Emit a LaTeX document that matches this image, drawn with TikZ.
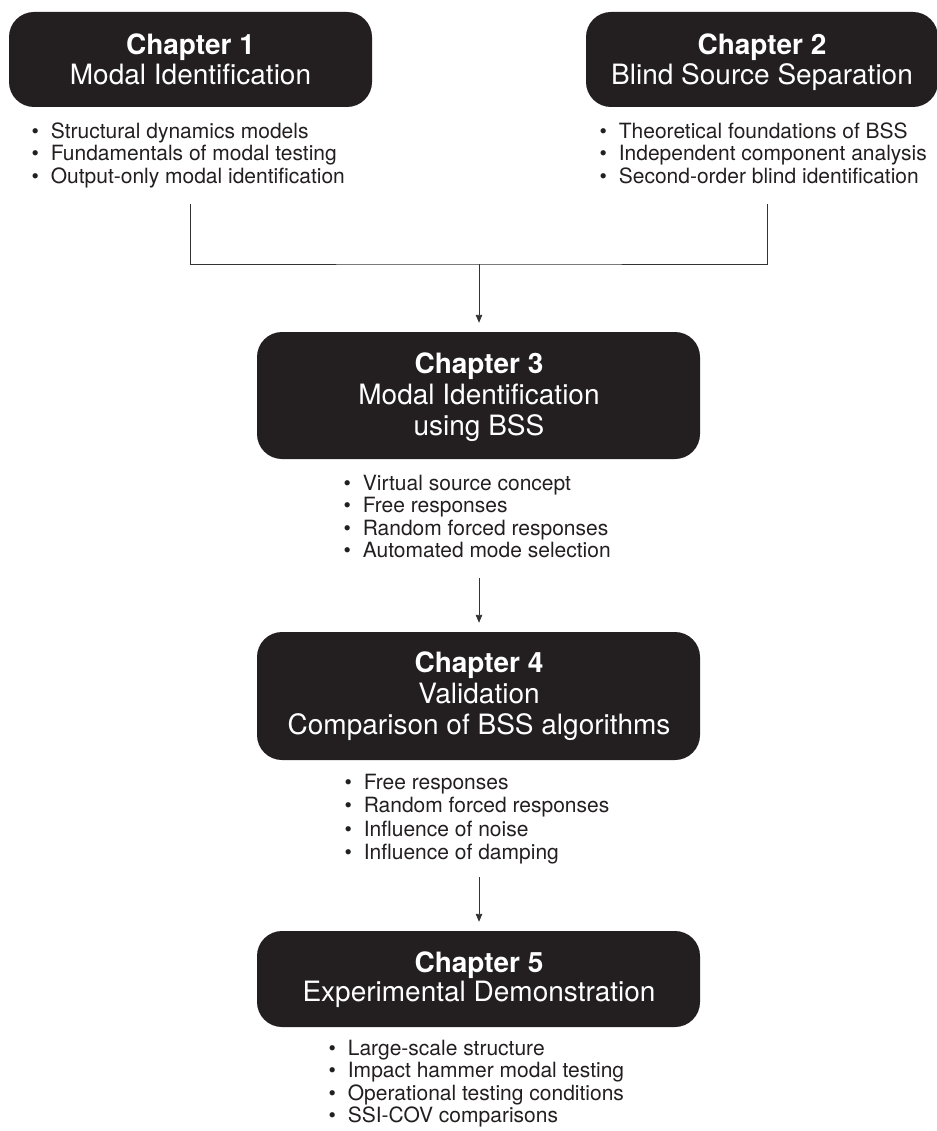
\documentclass[tikz,border=0pt]{standalone}
\usepackage{fontspec}
\setmainfont{TeX Gyre Heros}
\usetikzlibrary{arrows.meta}
\definecolor{boxblack}{HTML}{231F20}
\definecolor{linegray}{HTML}{333333}
% rows of a bullet list: "\textbullet & item \\"
\newcommand{\topicrows}[1]{\begin{tabular}[t]{@{}c@{\hspace{12pt}}l@{}}#1\end{tabular}}
% centred title lines, first one in bold
\newcommand{\titlerows}[1]{\begin{tabular}[t]{@{}c@{}}#1\end{tabular}}
\begin{document}
\begin{tikzpicture}[x=1pt,y=-1pt,
  chapbox/.style={fill=boxblack, draw=none, rounded corners=25pt, inner sep=0pt},
  chaptext/.style={text=white, inner sep=0pt, anchor=base},
  topics/.style={inner sep=0pt, anchor=base west, text=boxblack},
  link/.style={draw=linegray, line width=0.9pt},
  flow/.style={link, -{Triangle[length=8pt,width=6.5pt]}, shorten >=9pt}]
\useasboundingbox (0,0) rectangle (936,1131);

% chapter boxes
\node[chapbox, minimum width=363pt, minimum height=95pt]  (b1) at (190.5,59.5) {};
\node[chapbox, minimum width=352pt, minimum height=95pt]  (b2) at (762,59.5) {};
\node[chapbox, minimum width=443pt, minimum height=127pt] (b3) at (478.5,395.5) {};
\node[chapbox, minimum width=443pt, minimum height=128pt] (b4) at (478.5,696) {};
\node[chapbox, minimum width=443pt, minimum height=96pt]  (b5) at (478.5,979) {};

% chapter titles
\node[chaptext, font=\fontsize{28}{30}\selectfont] (t1) at (190.5,54.5)
  {\titlerows{\bfseries Chapter 1\\ Modal Identification}};
\node[chaptext, font=\fontsize{28}{30}\selectfont] (t2) at (762,54.5)
  {\titlerows{\bfseries Chapter 2\\ Blind Source Separation}};
\node[chaptext, font=\fontsize{28}{31}\selectfont] (t3) at (479,373)
  {\titlerows{\bfseries Chapter 3\\ Modal Identification\\ using BSS}};
\node[chaptext, font=\fontsize{28}{31}\selectfont] (t4) at (479,672)
  {\titlerows{\bfseries Chapter 4\\ Validation\\ Comparison of BSS algorithms}};
\node[chaptext, font=\fontsize{28}{29}\selectfont] (t5) at (479,972.5)
  {\titlerows{\bfseries Chapter 5\\ Experimental Demonstration}};

% topic lists
\node[topics, font=\fontsize{21}{22.5}\selectfont] (l1) at (31.3,138.3)
  {\topicrows{\textbullet & Structural dynamics models\\
              \textbullet & Fundamentals of modal testing\\
              \textbullet & Output-only modal identification}};
\node[topics, font=\fontsize{21}{22.5}\selectfont] (l2) at (599.3,138.3)
  {\topicrows{\textbullet & Theoretical foundations of BSS\\
              \textbullet & Independent component analysis\\
              \textbullet & Second-order blind identification}};
\node[topics, font=\fontsize{21}{22.5}\selectfont] (l3) at (343.3,490)
  {\topicrows{\textbullet & Virtual source concept\\
              \textbullet & Free responses\\
              \textbullet & Random forced responses\\
              \textbullet & Automated mode selection}};
\node[topics, font=\fontsize{21}{23.5}\selectfont] (l4) at (344.3,789)
  {\topicrows{\textbullet & Free responses\\
              \textbullet & Random forced responses\\
              \textbullet & Influence of noise\\
              \textbullet & Influence of damping}};
\node[topics, font=\fontsize{21}{22.5}\selectfont] (l5) at (328.3,1055)
  {\topicrows{\textbullet & Large-scale structure\\
              \textbullet & Impact hammer modal testing\\
              \textbullet & Operational testing conditions\\
              \textbullet & SSI-COV comparisons}};

% connector ends
\coordinate (j1) at (190.5,204);
\coordinate (j2) at (767,204);
\coordinate (jm) at (479,264);
\coordinate (a2) at (479,578);
\coordinate (a3) at (479,877);

% connectors
\draw[link] (j1) |- (jm) -| (j2);
\draw[flow] (jm) -- (jm |- b3.north);
\draw[flow] (a2) -- (a2 |- b4.north);
\draw[flow] (a3) -- (a3 |- b5.north);
\end{tikzpicture}
\end{document}
